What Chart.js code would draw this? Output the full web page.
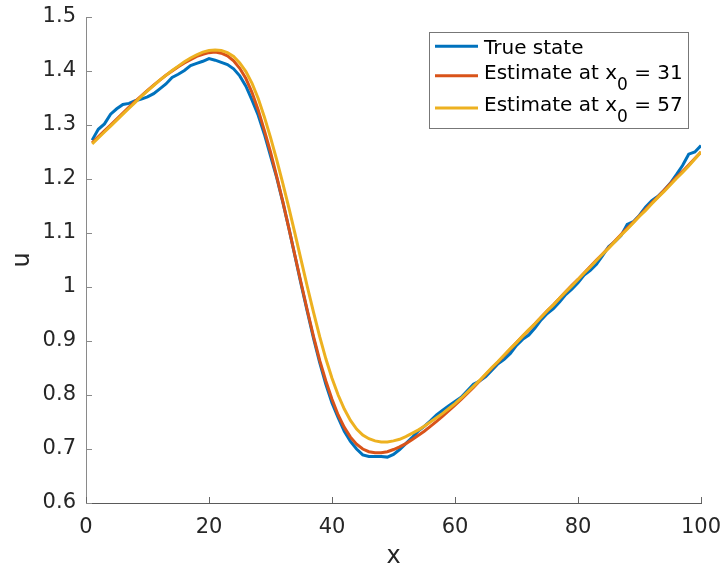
<!DOCTYPE html>
<html>
<head>
<meta charset="utf-8">
<script src="https://cdn.jsdelivr.net/npm/chart.js@4.4.1/dist/chart.umd.min.js"></script>
<style>
  html, body { margin: 0; padding: 0; background: #fff; }
  #wrap { position: relative; width: 727px; height: 569px; }
</style>
</head>
<body>
<div id="wrap"><canvas id="chart"></canvas></div>
<script>
// grid positions x = 1..100
var xs = [
  1, 2, 3, 4, 5, 6, 7, 8, 9, 10,
  11, 12, 13, 14, 15, 16, 17, 18, 19, 20,
  21, 22, 23, 24, 25, 26, 27, 28, 29, 30,
  31, 32, 33, 34, 35, 36, 37, 38, 39, 40,
  41, 42, 43, 44, 45, 46, 47, 48, 49, 50,
  51, 52, 53, 54, 55, 56, 57, 58, 59, 60,
  61, 62, 63, 64, 65, 66, 67, 68, 69, 70,
  71, 72, 73, 74, 75, 76, 77, 78, 79, 80,
  81, 82, 83, 84, 85, 86, 87, 88, 89, 90,
  91, 92, 93, 94, 95, 96, 97, 98, 99, 100
];

var trueState = [
  1.272, 1.292, 1.302, 1.320, 1.330, 1.338, 1.340, 1.345, 1.348, 1.352,
  1.358, 1.367, 1.376, 1.388, 1.394, 1.401, 1.410, 1.414, 1.418, 1.423,
  1.420, 1.416, 1.412, 1.404, 1.391, 1.372, 1.346, 1.318, 1.283, 1.243,
  1.203, 1.157, 1.108, 1.056, 1.004, 0.954, 0.905, 0.860, 0.820, 0.785,
  0.758, 0.733, 0.714, 0.700, 0.689, 0.686, 0.686, 0.686, 0.685, 0.690,
  0.699, 0.710, 0.721, 0.733, 0.742, 0.752, 0.763, 0.772, 0.780, 0.788,
  0.796, 0.808, 0.820, 0.826, 0.834, 0.846, 0.858, 0.866, 0.877, 0.892,
  0.903, 0.911, 0.924, 0.939, 0.951, 0.960, 0.972, 0.986, 0.996, 1.008,
  1.022, 1.031, 1.042, 1.058, 1.075, 1.084, 1.095, 1.116, 1.121, 1.133,
  1.148, 1.160, 1.168, 1.179, 1.192, 1.208, 1.225, 1.246, 1.250, 1.262
];

var estimate31 = [
  1.267, 1.278, 1.289, 1.300, 1.311, 1.322, 1.333, 1.344, 1.354, 1.364,
  1.374, 1.383, 1.392, 1.400, 1.408, 1.415, 1.421, 1.427, 1.431, 1.434,
  1.435, 1.433, 1.428, 1.419, 1.405, 1.386, 1.360, 1.328, 1.290, 1.250,
  1.205, 1.158, 1.108, 1.057, 1.006, 0.956, 0.908, 0.864, 0.826, 0.792,
  0.763, 0.740, 0.722, 0.709, 0.700, 0.695, 0.693, 0.693, 0.695, 0.699,
  0.704, 0.710, 0.717, 0.725, 0.733, 0.742, 0.751, 0.761, 0.771, 0.781,
  0.792, 0.803, 0.814, 0.826, 0.838, 0.850, 0.861, 0.873, 0.885, 0.897,
  0.909, 0.920, 0.932, 0.944, 0.956, 0.967, 0.979, 0.991, 1.003, 1.014,
  1.026, 1.038, 1.050, 1.061, 1.073, 1.085, 1.097, 1.109, 1.120, 1.132,
  1.144, 1.156, 1.167, 1.179, 1.191, 1.203, 1.214, 1.226, 1.238, 1.250
];

var estimate57 = [
  1.265, 1.276, 1.287, 1.298, 1.309, 1.320, 1.331, 1.342, 1.353, 1.363,
  1.373, 1.383, 1.392, 1.401, 1.409, 1.417, 1.424, 1.430, 1.435, 1.438,
  1.439, 1.438, 1.434, 1.427, 1.415, 1.399, 1.377, 1.349, 1.315, 1.277,
  1.236, 1.192, 1.146, 1.098, 1.049, 1.000, 0.953, 0.908, 0.867, 0.831,
  0.800, 0.774, 0.753, 0.737, 0.726, 0.719, 0.715, 0.713, 0.713, 0.715,
  0.718, 0.723, 0.729, 0.735, 0.742, 0.750, 0.758, 0.766, 0.775, 0.784,
  0.794, 0.805, 0.816, 0.827, 0.839, 0.851, 0.862, 0.874, 0.886, 0.897,
  0.909, 0.921, 0.932, 0.944, 0.956, 0.967, 0.979, 0.991, 1.002, 1.014,
  1.026, 1.037, 1.049, 1.061, 1.072, 1.084, 1.096, 1.107, 1.119, 1.131,
  1.142, 1.154, 1.166, 1.177, 1.189, 1.201, 1.212, 1.224, 1.237, 1.250
];

var seriesLabels = ["True state", "Estimate at x_0 = 31", "Estimate at x_0 = 57"];
var seriesColors = ["#0072BD", "#D95319", "#EDB120"];

var xTicks = [0, 20, 40, 60, 80, 100];
var yTicks = [0.6, 0.7, 0.8, 0.9, 1, 1.1, 1.2, 1.3, 1.4, 1.5];

var FONT = "'DejaVu Sans', 'Liberation Sans', sans-serif";

function toPoints(ys) {
  return ys.map(function (v, i) { return { x: xs[i], y: v }; });
}

// fixed axis box: no extra room for overhanging tick labels
function fixScale(size) {
  return function (scale) {
    if (scale.isHorizontal()) scale.height = size; else scale.width = size;
    scale.paddingLeft = 0;
    scale.paddingRight = 0;
    scale.paddingTop = 0;
    scale.paddingBottom = 0;
  };
}

// matlab style ticks pointing into the plot
var innerTicks = {
  id: "innerTicks",
  afterDatasetsDraw: function (chart) {
    var ctx = chart.ctx, a = chart.chartArea;
    var sx = chart.scales.x, sy = chart.scales.y;
    ctx.save();
    ctx.lineWidth = 1;
    ctx.strokeStyle = "#666";
    ctx.beginPath();
    xTicks.forEach(function (t) {
      var px = Math.round(sx.getPixelForValue(t)) + 0.5;
      ctx.moveTo(px, a.bottom);
      ctx.lineTo(px, a.bottom - 6);
    });
    ctx.stroke();
    ctx.strokeStyle = "#8a8a8a";
    ctx.beginPath();
    yTicks.forEach(function (t) {
      var py = Math.round(sy.getPixelForValue(t)) + 0.5;
      ctx.moveTo(a.left, py);
      ctx.lineTo(a.left + 6, py);
    });
    ctx.stroke();
    ctx.restore();
  }
};

// boxed legend, "_0" in a label is drawn as a subscript
var boxLegend = {
  id: "boxLegend",
  afterDraw: function (chart) {
    var ctx = chart.ctx, a = chart.chartArea;
    var w = 259, h = 96;
    var bx = a.right - 13 - w, by = a.top + 15;
    var lineYs = [14.3, 43.7, 76];
    var baseYs = [21.7, 46.7, 79.3];

    ctx.save();
    ctx.fillStyle = "#fff";
    ctx.fillRect(bx, by, w, h);
    ctx.strokeStyle = "#777";
    ctx.lineWidth = 1;
    ctx.strokeRect(bx + 0.5, by + 0.5, w, h);

    chart.data.datasets.forEach(function (ds, i) {
      ctx.strokeStyle = ds.borderColor;
      ctx.lineWidth = 3;
      ctx.beginPath();
      ctx.moveTo(bx + 6, by + lineYs[i]);
      ctx.lineTo(bx + 49, by + lineYs[i]);
      ctx.stroke();

      var parts = ds.label.split(/_(\S)/);
      var tx = bx + 55, ty = by + baseYs[i];
      ctx.fillStyle = "#000";
      ctx.textBaseline = "alphabetic";
      ctx.textAlign = "left";
      parts.forEach(function (p, k) {
        var isSub = k % 2 === 1;
        ctx.font = (isSub ? "17px " : "20px ") + FONT;
        ctx.fillText(p, tx, isSub ? ty + 11 : ty);
        tx += ctx.measureText(p).width;
      });
    });
    ctx.restore();
  }
};

var datasets = [trueState, estimate31, estimate57].map(function (ys, i) {
  return {
    label: seriesLabels[i],
    data: toPoints(ys),
    borderColor: seriesColors[i],
    backgroundColor: seriesColors[i],
    borderWidth: 3,
    pointRadius: 0,
    tension: 0,
    fill: false,
    order: 2 - i
  };
});

new Chart(document.getElementById("chart"), {
  type: "line",
  data: { datasets: datasets },
  options: {
    responsive: true,
    maintainAspectRatio: false,
    animation: false,
    layout: { padding: { top: 17, right: 26, left: 0, bottom: 0 } },
    plugins: {
      legend: { display: false },
      tooltip: { enabled: false }
    },
    scales: {
      x: {
        type: "linear",
        min: 0,
        max: 100,
        afterFit: fixScale(66),
        afterBuildTicks: function (scale) {
          scale.ticks = xTicks.map(function (v) { return { value: v }; });
        },
        grid: { display: true, drawOnChartArea: false, drawTicks: false },
        border: { display: true, color: "#5a5a5a", width: 1 },
        ticks: {
          autoSkip: false,
          maxRotation: 0,
          padding: 12,
          color: "#262626",
          font: { family: FONT, size: 21 }
        },
        title: {
          display: true,
          text: "x",
          color: "#262626",
          padding: 0,
          font: { family: FONT, size: 24, lineHeight: 1 }
        }
      },
      y: {
        type: "linear",
        min: 0.6,
        max: 1.5,
        afterFit: fixScale(86),
        afterBuildTicks: function (scale) {
          scale.ticks = yTicks.map(function (v) { return { value: v }; });
        },
        grid: { display: true, drawOnChartArea: false, drawTicks: false },
        border: { display: true, color: "#8a8a8a", width: 1 },
        ticks: {
          autoSkip: false,
          padding: 10,
          color: "#262626",
          font: { family: FONT, size: 21 },
          callback: function (v) { return String(Math.round(v * 10) / 10); }
        },
        title: {
          display: true,
          text: "u",
          color: "#262626",
          padding: { top: 11, bottom: 0 },
          font: { family: FONT, size: 24, lineHeight: 1 }
        }
      }
    }
  },
  plugins: [innerTicks, boxLegend]
});
</script>
</body>
</html>
